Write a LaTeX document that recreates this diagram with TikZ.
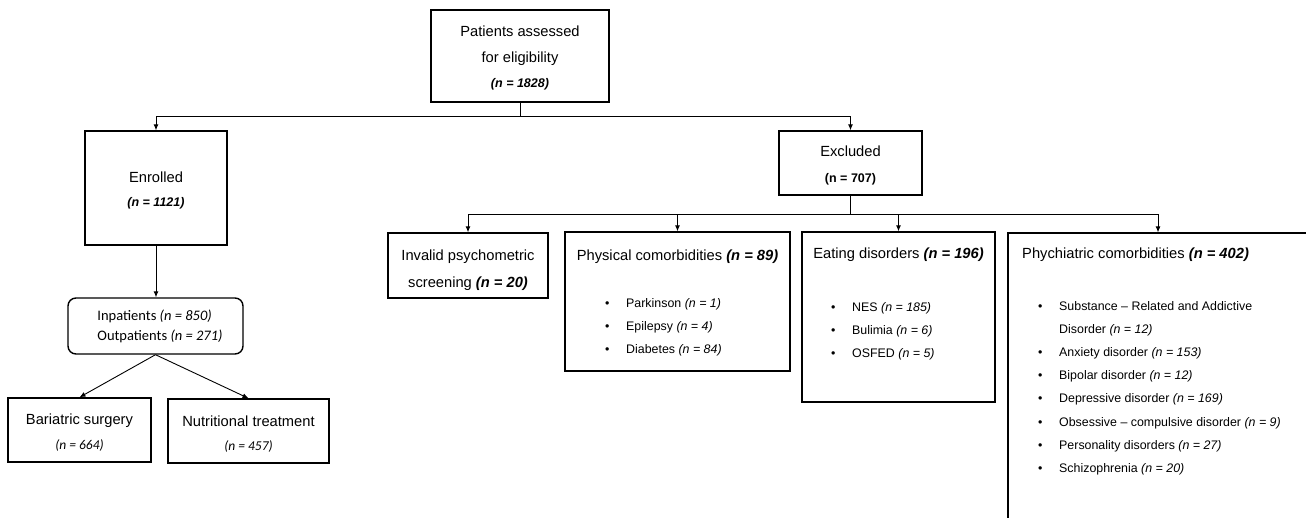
\documentclass[tikz,border=0pt]{standalone}
\usepackage{fontspec}
\setmainfont{Liberation Sans}
\newfontfamily\calfont{Carlito}
\usetikzlibrary{arrows.meta}
\newcommand\itm{\makebox[21pt][l]{\textbullet}}

\begin{document}
\begin{tikzpicture}[x=1pt, y=-1pt,
  every node/.style={font=\fontsize{14.7}{26}\selectfont},
  box/.style={draw, line width=1.4pt, inner sep=0pt, align=center},
  lst/.style={align=left, inner sep=0pt, anchor=base west, font=\fontsize{12.4}{23.2}\selectfont},
  hd/.style={inner sep=0pt, anchor=base},
  link/.style={line width=0.9pt},
  arr/.style={link, -{Latex[length=6pt,width=5pt]}}]
  \useasboundingbox (0,0) rectangle (1306,517);
  \clip (0,0) rectangle (1306,517);

  \node[box, minimum width=178pt, minimum height=92pt] (top) at (520,56) {\rule{0pt}{14pt}Patients assessed\\for eligibility\\[-1pt]{\fontsize{12.5}{26}\selectfont\bfseries\itshape (n = 1828)}};
  \node[box, minimum width=142pt, minimum height=114pt] (enr) at (156,188) {\rule{0pt}{16pt}Enrolled\\[-2pt]{\fontsize{12.5}{26}\selectfont\bfseries\itshape (n = 1121)}};
  \node[box, minimum width=143pt, minimum height=64pt] (exc) at (850.5,163) {\rule{0pt}{15pt}Excluded\\{\fontsize{12.5}{26}\selectfont\bfseries (n = 707)}};
  \node[box, rounded corners=8pt, minimum width=175pt, minimum height=56pt, align=left, font=\calfont\fontsize{14.5}{20}\selectfont] (inp) at (155.5,326) {\hspace*{9pt}Inpatients \textit{(n = 850)}\\\hspace*{9pt}Outpatients \textit{(n = 271)}};
  \node[box, minimum width=143pt, minimum height=64pt] (bar) at (79.5,430) {\rule{0pt}{16pt}Bariatric surgery\\[-1pt]{\calfont\itshape\fontsize{13.5}{26}\selectfont (n = 664)}};
  \node[box, minimum width=161pt, minimum height=64pt] (nut) at (248.5,431) {\rule{0pt}{16pt}Nutritional treatment\\[-2pt]{\calfont\itshape\fontsize{13.5}{26}\selectfont (n = 457)}};

  \node[box, minimum width=160pt, minimum height=65pt] (inv) at (468,265.5) {\rule{0pt}{20pt}Invalid psychometric\\[1pt]screening \textbf{\textit{(n = 20)}}};
  \node[box, minimum width=225pt, minimum height=139pt] (phy) at (677.5,301.5) {};
  \node[box, minimum width=193pt, minimum height=170pt] (eat) at (898.5,317) {};
  \node[box, line width=1.2pt, minimum width=300pt, minimum height=307pt] (psy) at (1158,386.5) {};

  \node[hd] (phyh) at (677.5,260) {Physical comorbidities \textbf{\textit{(n = 89)}}};
  \node[lst] (phyl) at (605,353.5) {\itm Parkinson \textit{(n = 1)}\\\itm Epilepsy \textit{(n = 4)}\\\itm Diabetes \textit{(n = 84)}};
  \node[hd] (eath) at (898.5,258) {Eating disorders \textbf{\textit{(n = 196)}}};
  \node[lst] (eatl) at (831,357.5) {\itm NES \textit{(n = 185)}\\\itm Bulimia \textit{(n = 6)}\\\itm OSFED \textit{(n = 5)}};
  \node[hd, anchor=base west] (psyh) at (1022,258) {Phychiatric comorbidities \textbf{\textit{(n = 402)}}};
  \node[lst] (psyl) at (1038,472.5) {\itm Substance -- Related and Addictive\\\hspace*{21pt}Disorder \textit{(n = 12)}\\\itm Anxiety disorder \textit{(n = 153)}\\\itm Bipolar disorder \textit{(n = 12)}\\\itm Depressive disorder \textit{(n = 169)}\\\itm Obsessive -- compulsive disorder \textit{(n = 9)}\\\itm Personality disorders \textit{(n = 27)}\\\itm Schizophrenia \textit{(n = 20)}};

  \coordinate (b1) at (520,116);
  \coordinate (b2) at (850.5,214);
  \draw[link] (top.south) -- (b1);
  \draw[arr] (b1) -| (enr.north);
  \draw[arr] (b1) -| (exc.north);
  \draw[arr] (enr.south) -- (enr.south |- inp.north);
  \draw[arr] (inp.south) -- (bar.north);
  \draw[arr] (inp.south) -- (nut.north);
  \draw[link] (exc.south) -- (b2);
  \draw[arr] (b2) -| (inv.north);
  \draw[arr] (b2) -| (phy.north);
  \draw[arr] (b2) -| (eat.north);
  \draw[arr] (b2) -| (psy.north);
\end{tikzpicture}
\end{document}
